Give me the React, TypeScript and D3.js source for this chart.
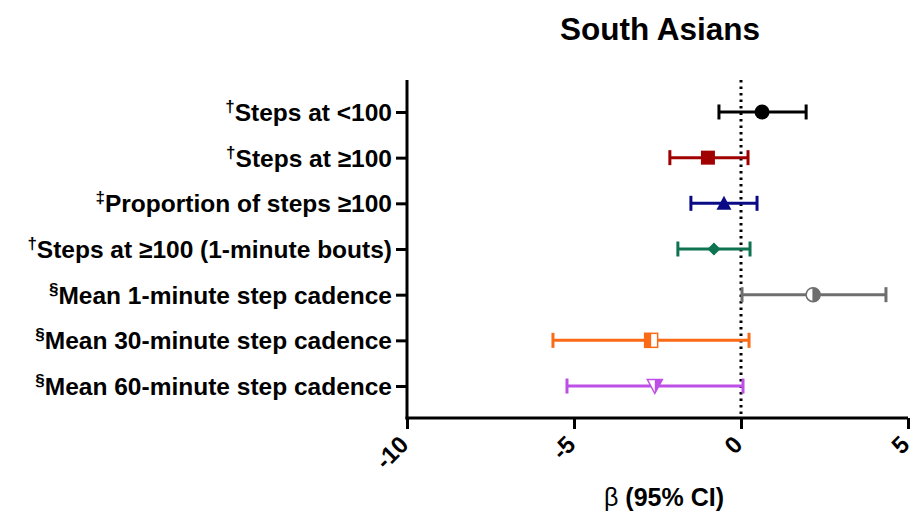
import { useEffect, useRef } from "react";
import * as d3 from "d3";

// forest plot data
const prefixes = ["†", "†", "‡", "†", "§", "§", "§"];
const labels = [
  "Steps at <100",
  "Steps at ≥100",
  "Proportion of steps ≥100",
  "Steps at ≥100 (1-minute bouts)",
  "Mean 1-minute step cadence",
  "Mean 30-minute step cadence",
  "Mean 60-minute step cadence",
];
const betas = [0.63, -0.99, -0.51, -0.81, 2.16, -2.69, -2.58];
const lowers = [-0.66, -2.13, -1.5, -1.89, 0.03, -5.63, -5.21];
const uppers = [1.95, 0.21, 0.48, 0.27, 4.34, 0.24, 0.06];
const colors = ["#000000", "#a00000", "#0a0a86", "#0d7350", "#6e6e6e", "#fb6a14", "#bd4fe6"];
const shapes = ["circle", "square", "triangleUp", "diamond", "halfCircle", "halfSquare", "triangleDown"];
const xTicks = [-10, -5, 0, 5];

const W = 916;
const H = 522;
const margin = { left: 407, right: 8, top: 80, bottom: 104 };

const App = () => {
  const svgRef = useRef<SVGSVGElement>(null);

  useEffect(() => {
    if (!svgRef.current) return;
    const svg = d3.select(svgRef.current);
    svg.selectAll("*").remove();

    const font = "'Liberation Sans', Arial, sans-serif";
    const x = d3.scaleLinear().domain([-10, 5]).range([margin.left, W - margin.right]);
    const y = d3
      .scalePoint<number>()
      .domain(d3.range(labels.length))
      .range([margin.top, H - margin.bottom])
      .padding(0.7);
    const y0 = H - margin.bottom;

    // title
    svg
      .append("text")
      .attr("x", 660)
      .attr("y", 40)
      .attr("text-anchor", "middle")
      .attr("font-family", font)
      .attr("font-weight", "bold")
      .attr("font-size", 31.5)
      .text("South Asians");

    // reference line at zero
    svg
      .append("line")
      .attr("x1", x(0))
      .attr("x2", x(0))
      .attr("y1", margin.top)
      .attr("y2", y0)
      .attr("stroke", "#000")
      .attr("stroke-width", 3)
      .attr("stroke-dasharray", "2.5,4");

    // y axis
    const yAxis = svg
      .append("g")
      .attr("transform", `translate(${margin.left},0)`)
      .call(d3.axisLeft(y).tickSize(11).tickSizeOuter(0).tickFormat(() => ""));
    yAxis.select(".domain").attr("stroke-width", 3).attr("d", `M0,${margin.top}V${y0 + 1.5}`);
    yAxis.selectAll(".tick line").attr("stroke-width", 3);

    // category labels
    const lab = svg
      .selectAll(".lab")
      .data(labels)
      .enter()
      .append("text")
      .attr("class", "lab")
      .attr("x", margin.left - 15)
      .attr("y", (_, i) => (y(i) as number) + 9)
      .attr("text-anchor", "end")
      .attr("font-family", font)
      .attr("font-weight", "bold")
      .attr("font-size", 24.5);
    lab
      .append("tspan")
      .attr("font-size", 17)
      .attr("dy", -9)
      .text((_, i) => prefixes[i]);
    lab
      .append("tspan")
      .attr("dy", 9)
      .text((d) => d);

    // x axis
    const xAxis = svg
      .append("g")
      .attr("transform", `translate(0,${y0})`)
      .call(d3.axisBottom(x).tickValues(xTicks).tickSize(11).tickSizeOuter(0).tickFormat(() => ""));
    xAxis.select(".domain").attr("stroke-width", 3).attr("d", `M${margin.left - 1.5},0H${W - margin.right}`);
    xAxis.selectAll(".tick line").attr("stroke-width", 3);

    svg
      .selectAll(".xlab")
      .data(xTicks)
      .enter()
      .append("text")
      .attr("class", "xlab")
      .attr("transform", (d) => `translate(${x(d) + 3},${y0 + 28}) rotate(-45)`)
      .attr("text-anchor", "end")
      .attr("font-family", font)
      .attr("font-weight", "bold")
      .attr("font-size", 24)
      .text((d) => String(d));

    const xt = svg
      .append("text")
      .attr("x", 664)
      .attr("y", 506)
      .attr("text-anchor", "middle")
      .attr("font-family", font)
      .attr("font-size", 25);
    xt.append("tspan").text("β ");
    xt.append("tspan").attr("font-weight", "bold").text("(95% CI)");

    // error bars
    const rows = labels.map((_, i) => i);
    const g = svg
      .selectAll(".row")
      .data(rows)
      .enter()
      .append("g")
      .attr("class", "row")
      .attr("transform", (i) => `translate(0,${y(i)})`);

    g.append("line")
      .attr("x1", (i) => x(lowers[i]))
      .attr("x2", (i) => x(uppers[i]))
      .attr("stroke", (i) => colors[i])
      .attr("stroke-width", 3);
    [lowers, uppers].forEach((arr) => {
      g.append("line")
        .attr("x1", (i) => x(arr[i]))
        .attr("x2", (i) => x(arr[i]))
        .attr("y1", -7.5)
        .attr("y2", 7.5)
        .attr("stroke", (i) => colors[i])
        .attr("stroke-width", 3);
    });

    // markers
    g.each(function (i) {
      const m = d3.select(this).append("g").attr("transform", `translate(${x(betas[i])},0)`);
      const c = colors[i];
      const s = shapes[i];
      if (s === "circle") {
        m.append("circle").attr("r", 7.5).attr("fill", c);
      } else if (s === "square") {
        m.append("rect").attr("x", -7).attr("y", -7).attr("width", 14).attr("height", 14).attr("fill", c);
      } else if (s === "triangleUp") {
        m.append("path").attr("d", "M0,-7.5L7.5,6.5L-7.5,6.5Z").attr("fill", c);
      } else if (s === "diamond") {
        m.append("path").attr("d", "M0,-6.5L6.5,0L0,6.5L-6.5,0Z").attr("fill", c);
      } else if (s === "halfCircle") {
        m.append("circle").attr("r", 7).attr("fill", "#fff").attr("stroke", c).attr("stroke-width", 1.5);
        m.append("path").attr("d", "M0,-7A7,7 0 0 1 0,7Z").attr("fill", c);
        m.append("line").attr("y1", -7).attr("y2", 7).attr("stroke", c).attr("stroke-width", 1.5);
      } else if (s === "halfSquare") {
        m.append("rect").attr("x", -6.5).attr("y", -7).attr("width", 13).attr("height", 14).attr("fill", "#fff").attr("stroke", c).attr("stroke-width", 1.5);
        m.append("rect").attr("x", -7).attr("y", -7.5).attr("width", 7).attr("height", 15).attr("fill", c);
      } else if (s === "triangleDown") {
        m.append("path").attr("d", "M-7.5,-6.5L7.5,-6.5L0,7.5Z").attr("fill", "#fff").attr("stroke", c).attr("stroke-width", 1.5);
        m.append("path").attr("d", "M0,-6.5L7.5,-6.5L0,7.5Z").attr("fill", c);
      }
    });
  }, []);

  return (
    <svg
      ref={svgRef}
      width={W}
      height={H}
      style={{ position: "absolute", left: 0, top: 0, background: "#fff" }}
    />
  );
};

export default App;
